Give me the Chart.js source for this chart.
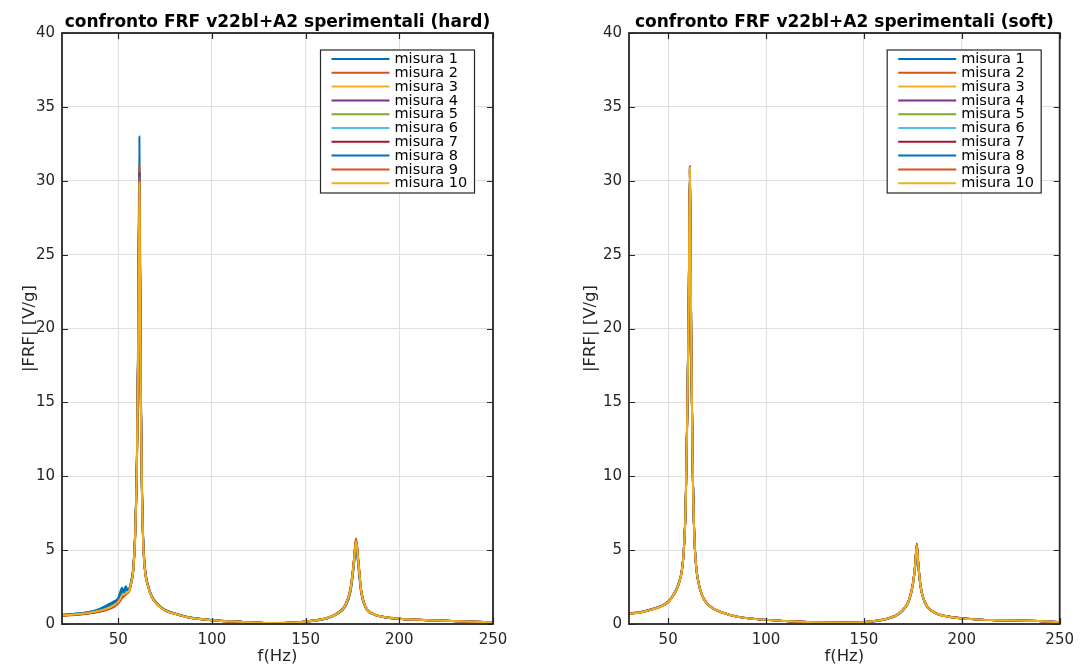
<!DOCTYPE html>
<html>
<head>
<meta charset="utf-8">
<script src="https://cdn.jsdelivr.net/npm/chart.js@4/dist/chart.umd.min.js"></script>
<style>
  html, body { margin: 0; padding: 0; background: #fff; overflow: hidden; }
  #wrap { position: relative; width: 1081px; height: 665px; }
  .panel { position: absolute; top: 0; height: 665px; }
</style>
</head>
<body>
<div id="wrap">
  <div class="panel" style="left:0;width:540px"><canvas id="hard" width="540" height="665" style="width:540px;height:665px"></canvas></div>
  <div class="panel" style="left:540px;width:541px"><canvas id="soft" width="541" height="665" style="width:541px;height:665px"></canvas></div>
</div>
<script>
// ---- series names, colours and tick values ----
const seriesNames = ['misura 1', 'misura 2', 'misura 3', 'misura 4', 'misura 5',
                     'misura 6', 'misura 7', 'misura 8', 'misura 9', 'misura 10'];
const seriesColors = ['#0072BD', '#D95319', '#EDB120', '#7E2F8E', '#77AC30',
                      '#4DBEEE', '#A2142F', '#0072BD', '#D95319', '#EDB120'];
const xTickValues = [50, 100, 150, 200, 250];
const yTickMax = 40;
const yTickStep = 5;

// ---- hard tip: frequency axis (Hz) ----
const freqHard = [20, 25, 30, 35, 40, 44, 48, 50, 51, 52, 53, 54, 55, 56, 57, 58, 59, 60,
  60.7, 61.3, 62, 62.6, 63.3, 64.3, 66, 68, 71, 75, 80, 87, 100, 115, 130, 145,
  155, 162, 167, 171, 174, 175.7, 176.9, 178.2, 179.6, 182, 186, 192, 200, 220, 250];

// |FRF| [V/g], hard tip
const hard1 = [0.62, 0.68, 0.73, 0.83, 1.02, 1.28, 1.55, 1.76, 2.15, 2.45, 2.25, 2.55, 2.35, 2.45, 2.95, 3.80, 6.10, 11.6,
  20.5, 33.0, 17.0, 10.0, 5.9, 3.8, 2.6, 1.88, 1.36, 0.96, 0.73, 0.48, 0.27, 0.15, 0.07, 0.10,
  0.22, 0.40, 0.68, 1.15, 2.20, 3.85, 5.30, 3.80, 2.15, 1.10, 0.66, 0.46, 0.35, 0.23, 0.12];
const hard2 = [0.55, 0.60, 0.65, 0.73, 0.83, 0.96, 1.18, 1.40, 1.55, 1.75, 1.88, 2.00, 2.10, 2.35, 2.85, 3.70, 6.00, 11.4,
  19.8, 31.1, 16.6, 9.8, 5.8, 3.7, 2.55, 1.82, 1.32, 0.93, 0.71, 0.46, 0.26, 0.15, 0.07, 0.11,
  0.25, 0.43, 0.74, 1.26, 2.45, 4.25, 5.80, 4.20, 2.35, 1.17, 0.69, 0.48, 0.36, 0.24, 0.12];
const hard3 = [0.57, 0.62, 0.68, 0.76, 0.88, 1.02, 1.26, 1.47, 1.64, 1.88, 1.95, 2.05, 2.12, 2.28, 2.78, 3.55, 5.70, 10.8,
  18.8, 29.8, 15.9, 9.4, 5.55, 3.55, 2.48, 1.78, 1.29, 0.91, 0.69, 0.45, 0.26, 0.15, 0.07, 0.11,
  0.24, 0.42, 0.73, 1.24, 2.38, 4.15, 5.65, 4.12, 2.32, 1.16, 0.68, 0.47, 0.36, 0.24, 0.12];
const hard4 = [0.59, 0.64, 0.70, 0.78, 0.92, 1.08, 1.33, 1.54, 1.75, 2.00, 2.05, 2.15, 2.20, 2.33, 2.82, 3.62, 5.85, 11.1,
  19.2, 30.1, 16.1, 9.6, 5.65, 3.62, 2.52, 1.81, 1.31, 0.92, 0.70, 0.46, 0.26, 0.15, 0.07, 0.11,
  0.24, 0.42, 0.72, 1.21, 2.33, 4.08, 5.58, 4.08, 2.28, 1.14, 0.68, 0.47, 0.36, 0.24, 0.12];
const hard5 = [0.58, 0.63, 0.69, 0.77, 0.89, 1.04, 1.28, 1.49, 1.66, 1.90, 1.97, 2.06, 2.10, 2.22, 2.70, 3.50, 5.70, 10.9,
  19.0, 30.0, 16.0, 9.5, 5.6, 3.6, 2.5, 1.8, 1.30, 0.92, 0.70, 0.46, 0.26, 0.15, 0.07, 0.11,
  0.24, 0.42, 0.72, 1.22, 2.36, 4.12, 5.62, 4.10, 2.30, 1.15, 0.68, 0.47, 0.36, 0.24, 0.12];
const hard6 = [0.60, 0.65, 0.71, 0.80, 0.95, 1.12, 1.38, 1.60, 1.85, 2.10, 2.08, 2.25, 2.22, 2.38, 2.88, 3.68, 5.90, 11.2,
  19.4, 30.3, 16.3, 9.7, 5.7, 3.65, 2.55, 1.83, 1.33, 0.94, 0.71, 0.47, 0.26, 0.15, 0.07, 0.11,
  0.23, 0.41, 0.70, 1.18, 2.28, 4.00, 5.50, 4.00, 2.25, 1.13, 0.67, 0.46, 0.35, 0.24, 0.12];
const hard7 = [0.56, 0.61, 0.66, 0.74, 0.85, 0.99, 1.22, 1.44, 1.60, 1.82, 1.92, 2.02, 2.12, 2.32, 2.84, 3.66, 5.90, 11.2,
  19.5, 30.5, 16.3, 9.7, 5.7, 3.66, 2.54, 1.82, 1.31, 0.93, 0.70, 0.46, 0.26, 0.15, 0.07, 0.11,
  0.25, 0.43, 0.74, 1.25, 2.42, 4.20, 5.72, 4.18, 2.34, 1.16, 0.69, 0.48, 0.36, 0.24, 0.12];
const hard8 = [0.61, 0.66, 0.72, 0.81, 0.97, 1.18, 1.45, 1.66, 1.95, 2.25, 2.15, 2.35, 2.28, 2.40, 2.90, 3.72, 5.95, 11.3,
  19.6, 30.4, 16.2, 9.6, 5.65, 3.64, 2.54, 1.84, 1.34, 0.95, 0.72, 0.47, 0.27, 0.15, 0.07, 0.10,
  0.23, 0.41, 0.70, 1.18, 2.26, 3.98, 5.45, 3.95, 2.22, 1.12, 0.67, 0.46, 0.35, 0.23, 0.12];
const hard9 = [0.57, 0.62, 0.67, 0.75, 0.86, 1.00, 1.24, 1.45, 1.62, 1.85, 1.94, 2.04, 2.12, 2.30, 2.82, 3.64, 5.85, 11.1,
  19.3, 30.2, 16.1, 9.6, 5.65, 3.63, 2.52, 1.81, 1.31, 0.92, 0.70, 0.46, 0.26, 0.15, 0.07, 0.11,
  0.25, 0.43, 0.73, 1.24, 2.40, 4.18, 5.70, 4.15, 2.33, 1.16, 0.69, 0.48, 0.36, 0.24, 0.12];
const hard10 = [0.58, 0.63, 0.69, 0.77, 0.90, 1.05, 1.30, 1.50, 1.68, 1.92, 1.98, 2.08, 2.15, 2.30, 2.80, 3.60, 5.80, 11.0,
  19.0, 29.9, 16.0, 9.5, 5.6, 3.6, 2.5, 1.8, 1.3, 0.92, 0.70, 0.46, 0.26, 0.15, 0.07, 0.11,
  0.24, 0.42, 0.72, 1.22, 2.35, 4.10, 5.60, 4.10, 2.30, 1.15, 0.68, 0.47, 0.36, 0.24, 0.12];

// ---- soft tip: frequency axis (Hz) ----
const freqSoft = [30, 35, 40, 45, 48, 50, 52, 54, 55.5, 57, 58, 59, 59.8, 60.5, 61.1, 61.8,
  62.5, 63.3, 64.3, 65.5, 67, 69.5, 73, 78, 85, 95, 110, 125, 140, 152, 160, 166,
  170, 173, 175, 176.2, 177, 177.8, 179, 181, 184, 188, 195, 205, 215, 230, 250];

// |FRF| [V/g], soft tip
const soft1 = [0.72, 0.78, 0.94, 1.15, 1.33, 1.52, 1.84, 2.30, 2.80, 3.65, 5.05, 8.30, 14.7, 21.7, 30.8, 19.1,
  11.1, 6.25, 3.93, 2.82, 2.07, 1.46, 1.06, 0.77, 0.51, 0.33, 0.20, 0.12, 0.09, 0.15, 0.29, 0.54,
  0.93, 1.57, 2.64, 3.92, 5.25, 3.92, 2.45, 1.48, 0.94, 0.65, 0.46, 0.33, 0.27, 0.24, 0.14];
const soft2 = [0.71, 0.77, 0.93, 1.13, 1.31, 1.50, 1.82, 2.27, 2.77, 3.62, 5.02, 8.25, 14.6, 21.6, 31.0, 19.1,
  11.0, 6.22, 3.91, 2.81, 2.06, 1.45, 1.05, 0.76, 0.50, 0.33, 0.20, 0.12, 0.09, 0.15, 0.30, 0.56,
  0.96, 1.62, 2.73, 4.05, 5.45, 4.05, 2.53, 1.52, 0.96, 0.67, 0.47, 0.33, 0.27, 0.24, 0.14];
const soft3 = [0.70, 0.76, 0.91, 1.11, 1.29, 1.47, 1.79, 2.24, 2.74, 3.58, 4.98, 8.15, 14.4, 21.4, 30.7, 18.9,
  10.9, 6.18, 3.89, 2.79, 2.04, 1.44, 1.04, 0.76, 0.50, 0.33, 0.20, 0.12, 0.09, 0.15, 0.30, 0.55,
  0.95, 1.60, 2.70, 4.00, 5.35, 4.00, 2.50, 1.50, 0.95, 0.66, 0.46, 0.33, 0.27, 0.24, 0.14];
const soft4 = [0.71, 0.77, 0.93, 1.14, 1.32, 1.50, 1.83, 2.28, 2.78, 3.63, 5.03, 8.26, 14.6, 21.6, 30.9, 19.0,
  11.0, 6.21, 3.91, 2.81, 2.06, 1.45, 1.05, 0.76, 0.50, 0.33, 0.20, 0.12, 0.09, 0.15, 0.30, 0.55,
  0.94, 1.59, 2.68, 3.98, 5.32, 3.98, 2.49, 1.50, 0.95, 0.66, 0.46, 0.33, 0.27, 0.24, 0.14];
const soft5 = [0.70, 0.76, 0.92, 1.12, 1.30, 1.49, 1.81, 2.26, 2.76, 3.61, 5.01, 8.22, 14.5, 21.5, 30.8, 19.0,
  11.0, 6.20, 3.90, 2.80, 2.05, 1.45, 1.05, 0.76, 0.50, 0.33, 0.20, 0.12, 0.09, 0.15, 0.30, 0.55,
  0.95, 1.61, 2.71, 4.02, 5.38, 4.02, 2.51, 1.51, 0.95, 0.66, 0.46, 0.33, 0.27, 0.24, 0.14];
const soft6 = [0.73, 0.79, 0.95, 1.16, 1.34, 1.53, 1.85, 2.31, 2.81, 3.66, 5.06, 8.32, 14.8, 21.8, 30.9, 19.1,
  11.1, 6.26, 3.94, 2.83, 2.08, 1.47, 1.06, 0.77, 0.51, 0.34, 0.20, 0.12, 0.09, 0.15, 0.29, 0.54,
  0.93, 1.58, 2.66, 3.95, 5.28, 3.95, 2.47, 1.49, 0.94, 0.65, 0.46, 0.33, 0.27, 0.24, 0.14];
const soft7 = [0.70, 0.76, 0.91, 1.11, 1.29, 1.47, 1.79, 2.23, 2.73, 3.57, 4.96, 8.12, 14.3, 21.3, 30.6, 18.9,
  10.9, 6.17, 3.88, 2.79, 2.04, 1.44, 1.04, 0.75, 0.50, 0.33, 0.20, 0.12, 0.09, 0.15, 0.30, 0.56,
  0.96, 1.62, 2.74, 4.06, 5.42, 4.05, 2.53, 1.52, 0.96, 0.67, 0.47, 0.33, 0.27, 0.24, 0.14];
const soft8 = [0.72, 0.78, 0.94, 1.14, 1.32, 1.51, 1.83, 2.29, 2.79, 3.64, 5.04, 8.28, 14.6, 21.6, 30.8, 19.0,
  11.0, 6.23, 3.92, 2.82, 2.06, 1.46, 1.05, 0.76, 0.50, 0.33, 0.20, 0.12, 0.09, 0.15, 0.29, 0.54,
  0.94, 1.58, 2.66, 3.94, 5.27, 3.94, 2.47, 1.49, 0.94, 0.65, 0.46, 0.33, 0.27, 0.24, 0.14];
const soft9 = [0.71, 0.77, 0.92, 1.13, 1.31, 1.49, 1.81, 2.26, 2.76, 3.61, 5.01, 8.23, 14.5, 21.5, 30.9, 19.0,
  11.0, 6.21, 3.90, 2.80, 2.05, 1.45, 1.05, 0.76, 0.50, 0.33, 0.20, 0.12, 0.09, 0.15, 0.30, 0.55,
  0.96, 1.61, 2.72, 4.03, 5.40, 4.03, 2.52, 1.51, 0.96, 0.66, 0.46, 0.33, 0.27, 0.24, 0.14];
const soft10 = [0.70, 0.76, 0.92, 1.12, 1.30, 1.48, 1.80, 2.25, 2.75, 3.60, 5.00, 8.20, 14.5, 21.5, 30.9, 19.0,
  11.0, 6.20, 3.90, 2.80, 2.05, 1.45, 1.05, 0.76, 0.50, 0.33, 0.20, 0.12, 0.09, 0.15, 0.30, 0.55,
  0.95, 1.60, 2.70, 4.00, 5.35, 4.00, 2.50, 1.50, 0.95, 0.66, 0.46, 0.33, 0.27, 0.24, 0.14];

const hardSeries = [hard1, hard2, hard3, hard4, hard5, hard6, hard7, hard8, hard9, hard10];
const softSeries = [soft1, soft2, soft3, soft4, soft5, soft6, soft7, soft8, soft9, soft10];

// ---- drawing ----
const FONT = '"DejaVu Sans", "Liberation Sans", sans-serif';
const AXIS_DARK = '#262626';

// Box, inward ticks, bold title and in-axes legend
const matlabAxes = {
  id: 'matlabAxes',
  afterDraw(chart, args, opts) {
    const { ctx, chartArea: a, scales } = chart;
    const sx = scales.x, sy = scales.y;
    ctx.save();

    // inward tick marks on all four sides
    const L = 6;
    ctx.strokeStyle = AXIS_DARK;
    ctx.lineWidth = 1.2;
    ctx.beginPath();
    sx.ticks.forEach(t => {
      const px = Math.round(sx.getPixelForValue(t.value)) + 0.5;
      ctx.moveTo(px, a.bottom); ctx.lineTo(px, a.bottom - L);
      ctx.moveTo(px, a.top); ctx.lineTo(px, a.top + L);
    });
    sy.ticks.forEach(t => {
      const py = Math.round(sy.getPixelForValue(t.value)) + 0.5;
      ctx.moveTo(a.left, py); ctx.lineTo(a.left + L, py);
      ctx.moveTo(a.right, py); ctx.lineTo(a.right - L, py);
    });
    ctx.stroke();

    // axes box
    ctx.lineWidth = 1.8;
    ctx.strokeRect(a.left, a.top, a.right - a.left, a.bottom - a.top);

    // title
    ctx.fillStyle = '#000';
    ctx.font = 'bold 17px ' + FONT;
    ctx.textAlign = 'center';
    ctx.textBaseline = 'alphabetic';
    ctx.fillText(opts.title, (a.left + a.right) / 2, a.top - 6);

    // legend
    const W = 154, rowH = 13.8, H = 143;
    const lx = a.right - opts.legendRight - W;
    const ly = a.top + 17;
    ctx.fillStyle = '#fff';
    ctx.fillRect(lx, ly, W, H);
    ctx.strokeStyle = AXIS_DARK;
    ctx.lineWidth = 1.2;
    ctx.strokeRect(lx, ly, W, H);
    ctx.font = '14.5px ' + FONT;
    ctx.textAlign = 'left';
    ctx.textBaseline = 'middle';
    chart.data.datasets.forEach((ds, i) => {
      const yy = ly + 9 + i * rowH;
      ctx.strokeStyle = ds.borderColor;
      ctx.lineWidth = 2;
      ctx.beginPath();
      ctx.moveTo(lx + 11, yy); ctx.lineTo(lx + 69, yy);
      ctx.stroke();
      ctx.fillStyle = '#000';
      ctx.fillText(ds.label, lx + 74, yy + 0.5);
    });
    ctx.restore();
  }
};

function makeChart(canvasId, freq, series, xMin, cfg) {
  const datasets = series.map((vals, k) => ({
    label: seriesNames[k],
    data: freq.map((f, i) => ({ x: f, y: vals[i] })),
    borderColor: seriesColors[k],
    backgroundColor: seriesColors[k],
    borderWidth: 2,
    pointRadius: 0,
    fill: false,
    cubicInterpolationMode: 'monotone',
    order: series.length - k
  }));
  return new Chart(document.getElementById(canvasId), {
    type: 'line',
    data: { datasets },
    plugins: [matlabAxes],
    options: {
      responsive: false,
      animation: false,
      events: [],
      devicePixelRatio: 1,
      layout: { padding: { left: 0, top: 33, right: cfg.padRight, bottom: 0 } },
      plugins: {
        legend: { display: false },
        tooltip: { enabled: false },
        matlabAxes: { title: cfg.title, legendRight: 18.5 }
      },
      scales: {
        x: {
          type: 'linear',
          min: xMin,
          max: 250,
          afterBuildTicks: s => { s.ticks = xTickValues.map(v => ({ value: v })); },
          afterFit: s => { s.height = 41; },
          grid: { color: '#dfdfdf', lineWidth: 1, drawTicks: false },
          border: { display: false },
          ticks: { padding: 7, color: AXIS_DARK, font: { family: FONT, size: 15 }, maxRotation: 0 },
          title: { display: true, text: 'f(Hz)', color: AXIS_DARK,
                   font: { family: FONT, size: 16.5, lineHeight: 1 }, padding: { top: 0, bottom: 0 } }
        },
        y: {
          type: 'linear',
          min: 0,
          max: yTickMax,
          ticks: { stepSize: yTickStep, padding: 7, color: AXIS_DARK, font: { family: FONT, size: 15 } },
          afterFit: s => { s.width = cfg.yWidth; },
          grid: { color: '#dfdfdf', lineWidth: 1, drawTicks: false },
          border: { display: false },
          title: { display: true, text: '|FRF| [V/g]', color: AXIS_DARK,
                   font: { family: FONT, size: 16.5 }, padding: { top: cfg.yTitlePad, bottom: 0 } }
        }
      }
    }
  });
}

makeChart('hard', freqHard, hardSeries, 20, {
  title: 'confronto FRF v22bl+A2 sperimentali (hard)', padRight: 47, yWidth: 62, yTitlePad: 20
});
makeChart('soft', freqSoft, softSeries, 30, {
  title: 'confronto FRF v22bl+A2 sperimentali (soft)', padRight: 21, yWidth: 89, yTitlePad: 41
});
</script>
</body>
</html>
